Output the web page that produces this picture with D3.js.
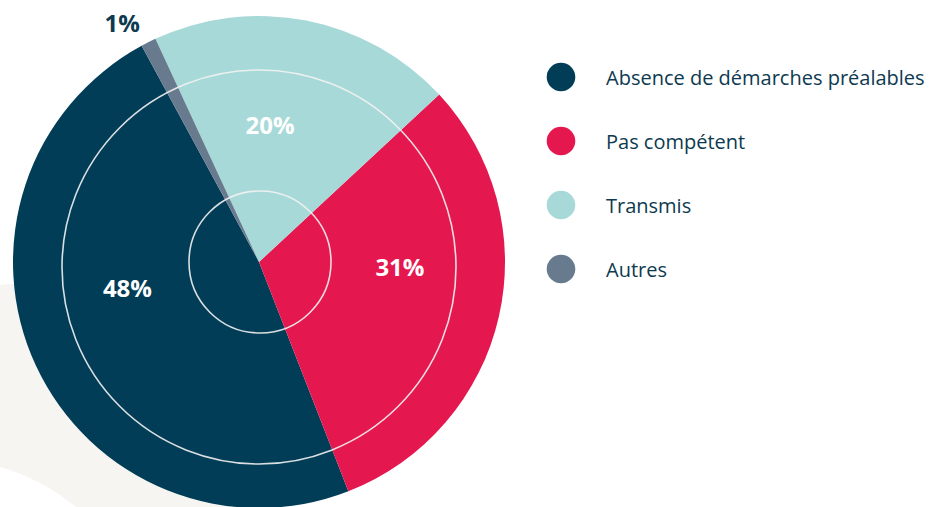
<!DOCTYPE html>
<html><head><meta charset="utf-8">
<script src="https://cdn.jsdelivr.net/npm/d3@7"></script>
<style>html,body{margin:0;padding:0;background:#fff;overflow:hidden}svg{display:block}</style>
</head><body>
<svg id="chart" width="933" height="507"></svg>
<script>
const categories = ["Absence de démarches préalables", "Pas compétent", "Transmis", "Autres"];
const values = [48, 31, 20, 1];
const valueLabels = ["48%", "31%", "20%", "1%"];
const colors = ["#023d57", "#e5174f", "#a7d9d8", "#687a8e"];

// layout (not data)
const W = 933, H = 507;
const cx = 259, cy = 262, R = 246;
const labelLayout = [ {r:134, da:14, fill:"#fff"}, {r:141, da:-11, fill:"#fff"}, {r:138, da:-6.5, fill:"#fff"}, {r:276, da:-3, fill:"#0d3a50"} ];
const deg = Math.PI/180;

const svg = d3.select("#chart");

// background beige blob
svg.append("path")
  .attr("d", "M0,285 Q20,282 60,285 L260,320 L260,507 L76,507 Q40,478 0,467 Z")
  .attr("fill", "#f6f5f2");

const pie = d3.pie().sort(null).value(d => d)
  .startAngle(331.5*deg).endAngle((331.5-360)*deg);
const arcs = pie(values);
const arc = d3.arc().innerRadius(0).outerRadius(R);

const g = svg.append("g").attr("transform", `translate(${cx},${cy})`);
g.selectAll("path.slice").data(arcs).enter().append("path")
  .attr("class","slice")
  .attr("d", arc)
  .attr("fill", (d,i) => colors[i]);

// white rings
svg.append("circle").attr("cx", cx).attr("cy", cy+5).attr("r", 197)
  .attr("fill","none").attr("stroke","#f2f2f2").attr("stroke-width",1.6).attr("opacity",0.9);
svg.append("circle").attr("cx", cx+1).attr("cy", cy).attr("r", 71)
  .attr("fill","none").attr("stroke","#f2f2f2").attr("stroke-width",1.6).attr("opacity",0.9);

// value labels
g.selectAll("text.val").data(arcs).enter().append("text")
  .attr("class","val")
  .attr("transform", (d,i) => {
    const L = labelLayout[i];
    const a = (d.startAngle + d.endAngle)/2 + L.da*deg;
    return `translate(${Math.sin(a)*L.r},${-Math.cos(a)*L.r})`;
  })
  .attr("text-anchor","middle")
  .attr("dominant-baseline","central")
  .attr("font-family","'Open Sans', sans-serif")
  .attr("font-weight","bold")
  .attr("font-size", 24)
  .attr("fill", (d,i) => labelLayout[i].fill)
  .text((d,i) => valueLabels[i]);

// legend
const leg = svg.append("g").attr("transform","translate(561,77)");
const items = leg.selectAll("g").data(categories).enter().append("g")
  .attr("transform", (d,i) => `translate(0,${i*64})`);
items.append("circle").attr("r", 14.3).attr("fill", (d,i) => colors[i]);
items.append("text").attr("x", 45).attr("y", 0)
  .attr("dominant-baseline","central")
  .attr("font-family","'Open Sans', sans-serif")
  .attr("font-weight", 500)
  .attr("font-size", 20)
  .attr("fill","#0d3a50")
  .text(d => d);
</script>
</body></html>
